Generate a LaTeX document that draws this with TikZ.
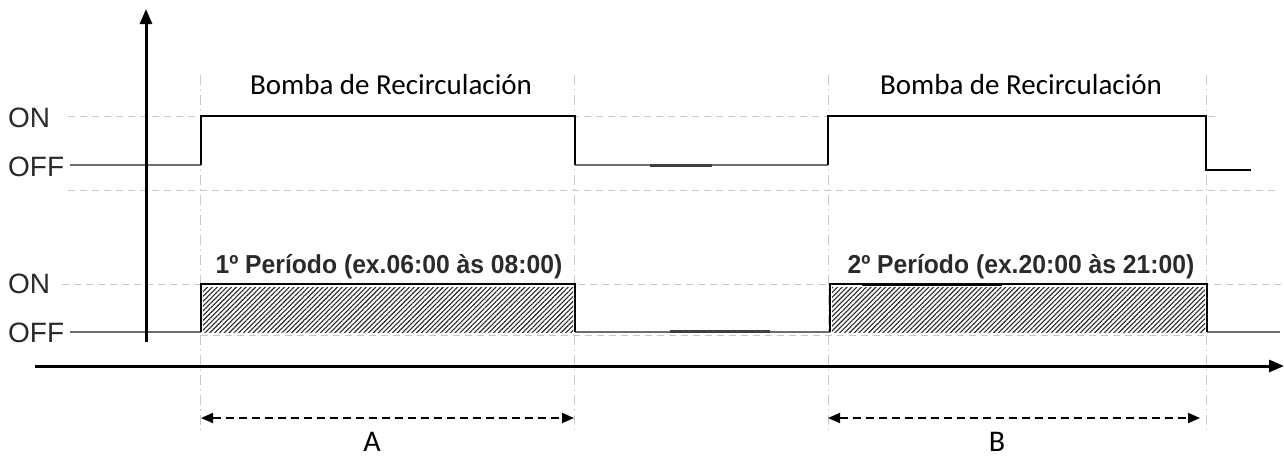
\documentclass[tikz,border=0pt]{standalone}
\usepackage{fontspec}
\setmainfont{Liberation Sans}
\newfontfamily\calfont{Carlito}
\newfontfamily\narrowbold[FakeStretch=0.95]{Liberation Sans Bold}
\usetikzlibrary{arrows.meta,patterns.meta}
\definecolor{guide}{HTML}{C8C8C8}
\definecolor{offgray}{HTML}{6E6E6E}
\definecolor{lbl}{HTML}{2A2A2A}
\tikzset{
  axis/.style={line width=3pt,-{Triangle[length=15pt,width=12pt]}},
  guideh/.style={guide,line width=1pt,dash pattern=on 7pt off 5pt},
  guidev/.style={guide,line width=1pt,dash pattern=on 10pt off 4pt on 2pt off 4pt},
  sig/.style={black,line width=1.8pt,line join=miter},
  offline/.style={offgray,line width=2.6pt},
  dimarrow/.style={line width=1.8pt,dash pattern=on 8pt off 5pt,{Triangle[length=12pt,width=10pt]}-{Triangle[length=12pt,width=10pt]}},
  hatch/.style={pattern={Lines[angle=45,distance=3.4pt,line width=1.1pt]},pattern color=black!85},
  onoff/.style={font=\fontsize{28}{32}\selectfont,text=lbl,inner sep=0pt,anchor=west},
  title/.style={font=\calfont\fontsize{29}{33}\selectfont,inner sep=0pt},
  period/.style={font=\narrowbold\fontsize{26}{30}\selectfont,text=lbl,inner sep=0pt},
  letter/.style={font=\calfont\fontsize{30}{34}\selectfont,inner sep=0pt,anchor=base},
}
\begin{document}
\begin{tikzpicture}[x=1pt,y=-1pt]
\useasboundingbox (0,0) rectangle (1284,461);
% guides
\draw[guideh] (68,116) -- (1215,116);
\draw[guideh] (68,190) -- (1280,190);
\draw[guideh] (62,284) -- (1282,284);
\draw[guideh] (201,335) -- (1207,335);
\foreach \gx in {200,574,828,1206} \draw[guidev] (\gx,75) -- (\gx,430);
% coordinates
\coordinate (yb) at (146,342); \coordinate (yt) at (146,9);
\coordinate (xl) at (35,366); \coordinate (xr) at (1284,366);
% top signal
\coordinate (t0) at (70,165); \coordinate (t1) at (201,165); \coordinate (t2) at (201,116);
\coordinate (t3) at (575,116); \coordinate (t4) at (575,165); \coordinate (t5) at (828,165);
\coordinate (t6) at (828,116); \coordinate (t7) at (1206,116); \coordinate (t8) at (1206,170);
\coordinate (t9) at (1251,170);
\draw[offline] (t0) -- (t1);
\draw[offline] (t4) -- (t5);
\draw[line width=3pt,black!75] (650,165) -- (712,165);
\draw[sig] (t1) -- (t2) -- (t3) -- (t4);
\draw[sig] (t5) -- (t6) -- (t7) -- (t8) -- (t9);
% bottom signal
\coordinate (b0) at (70,332); \coordinate (b1) at (201,332); \coordinate (b2) at (201,284);
\coordinate (b3) at (575,284); \coordinate (b4) at (575,332); \coordinate (b5) at (830,332);
\coordinate (b6) at (830,284); \coordinate (b7) at (1207,284); \coordinate (b8) at (1207,332);
\coordinate (b9) at (1280,332);
\fill[hatch] (203,287) rectangle (573,332);
\fill[hatch] (832,287) rectangle (1205,332);
\draw[offline] (b0) -- (b1);
\draw[offline] (b4) -- (b5);
\draw[offline] (b8) -- (b9);
\draw[line width=3pt,black!75] (670,331) -- (770,331);
\draw[sig] (b1) -- (b2) -- (b3) -- (b4);
\draw[sig] (b5) -- (b6) -- (b7) -- (b8);
\draw[line width=3pt] (862,284) -- (1002,284);
% axes
\draw[axis] (yb) -- (yt);
\draw[axis] (xl) -- (xr);
% labels
\node[onoff] (on1) at (8,118) {ON};
\node[onoff] (off1) at (8,167) {OFF};
\node[onoff] (on2) at (8,284) {ON};
\node[onoff] (off2) at (8,333) {OFF};
\node[title] (bomba1) at (391,85) {Bomba de Recirculación};
\node[title] (bomba2) at (1021,85) {Bomba de Recirculación};
\node[period] (p1) at (389,267) {1º Período (ex.06:00 às 08:00)};
\node[period] (p2) at (1021,267) {2º Período (ex.20:00 às 21:00)};
% dimension arrows
\coordinate (a1) at (201,418); \coordinate (a2) at (574,418);
\coordinate (c1) at (828,418); \coordinate (c2) at (1200,418);
\draw[dimarrow] (a1) -- (a2);
\draw[dimarrow] (c1) -- (c2);
\node[letter] (A) at (372,451) {A};
\node[letter] (B) at (997,451) {B};
\end{tikzpicture}
\end{document}
